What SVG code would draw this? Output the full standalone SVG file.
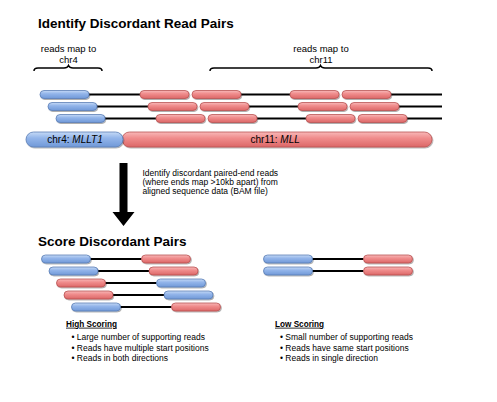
<svg xmlns="http://www.w3.org/2000/svg" width="497" height="402" viewBox="0 0 497 402">
<defs>
<linearGradient id="gb" x1="0" y1="0" x2="0" y2="1">
<stop offset="0" stop-color="#c6daf6"/><stop offset="0.4" stop-color="#93b5ea"/><stop offset="1" stop-color="#7099d8"/>
</linearGradient>
<linearGradient id="gr" x1="0" y1="0" x2="0" y2="1">
<stop offset="0" stop-color="#f8b9b9"/><stop offset="0.4" stop-color="#f08d8d"/><stop offset="1" stop-color="#dc6767"/>
</linearGradient>
<filter id="sh" x="-10%" y="-30%" width="120%" height="170%">
<feDropShadow dx="0.8" dy="1" stdDeviation="0.7" flood-color="#000" flood-opacity="0.35"/>
</filter>
</defs>
<style>
.b{fill:url(#gb);stroke:#5a7db5;stroke-width:0.8;filter:url(#sh)}
.r{fill:url(#gr);stroke:#b95353;stroke-width:0.8;filter:url(#sh)}
.ln{stroke:#000;stroke-width:2;fill:none}
.ln2{stroke:#000;stroke-width:1.8;fill:none}
.br{stroke:#000;stroke-width:1.5;fill:none}
text{font-family:"Liberation Sans",Arial,sans-serif;fill:#000}
.t{font-size:13.5px;font-weight:bold}
.s{font-size:9.5px}
.d{font-size:8.5px}
.h{font-size:8.2px;font-weight:bold;text-decoration:underline}
</style>
<rect width="497" height="402" fill="#fff"/>
<text class="t" x="38" y="28">Identify Discordant Read Pairs</text>
<g id="label-chr4">
<text class="s" x="68.5" y="52.3" text-anchor="middle">reads map to</text>
<text class="s" x="68.5" y="62.7" text-anchor="middle">chr4</text>
<path class="br" d="M34,71 Q34,68 38,68 L64,68 Q67.5,68 68.5,65.5 Q69.5,68 73,68 L98,68 Q102,68 102,71"/>
</g>
<g id="label-chr11">
<text class="s" x="321" y="52.3" text-anchor="middle">reads map to</text>
<text class="s" x="321" y="62.7" text-anchor="middle">chr11</text>
<path class="br" d="M210,71 Q210,68 214,68 L316,68 Q319.5,68 320.5,65.5 Q321.5,68 325,68 L428,68 Q432,68 432,71"/>
</g>
<g id="connectors">
<line class="ln" x1="89" y1="94.5" x2="140" y2="94.5"/>
<line class="ln" x1="241" y1="94.5" x2="290" y2="94.5"/>
<line class="ln" x1="391" y1="94.5" x2="442" y2="94.5"/>
<line class="ln" x1="97" y1="106.5" x2="148" y2="106.5"/>
<line class="ln" x1="249" y1="106.5" x2="298" y2="106.5"/>
<line class="ln" x1="399" y1="106.5" x2="442" y2="106.5"/>
<line class="ln" x1="105" y1="118.5" x2="156" y2="118.5"/>
<line class="ln" x1="257" y1="118.5" x2="306" y2="118.5"/>
<line class="ln" x1="407" y1="118.5" x2="442" y2="118.5"/>
<line class="ln2" x1="90" y1="259" x2="141.5" y2="259"/>
<line class="ln2" x1="98" y1="271" x2="149" y2="271"/>
<line class="ln2" x1="105" y1="283" x2="156.5" y2="283"/>
<line class="ln2" x1="113" y1="295" x2="164" y2="295"/>
<line class="ln2" x1="120" y1="307" x2="171.5" y2="307"/>
<line class="ln2" x1="312" y1="259" x2="363.5" y2="259"/>
<line class="ln2" x1="312" y1="271" x2="363.5" y2="271"/>
<polygon id="arrow" points="119.5,163 127.5,163 127.5,212 134.5,212 123.5,226 112.5,212 119.5,212" fill="#000"/>
</g>
<g id="reads-top">
<rect class="b" x="40" y="90.5" width="49" height="8" rx="4"/>
<rect class="r" x="140" y="90.5" width="49" height="8" rx="4"/>
<rect class="r" x="192" y="90.5" width="49" height="8" rx="4"/>
<rect class="r" x="290" y="90.5" width="49" height="8" rx="4"/>
<rect class="r" x="342" y="90.5" width="49" height="8" rx="4"/>
<rect class="b" x="48" y="102.5" width="49" height="8" rx="4"/>
<rect class="r" x="148" y="102.5" width="49" height="8" rx="4"/>
<rect class="r" x="200" y="102.5" width="49" height="8" rx="4"/>
<rect class="r" x="298" y="102.5" width="49" height="8" rx="4"/>
<rect class="r" x="350" y="102.5" width="49" height="8" rx="4"/>
<rect class="b" x="56" y="114.5" width="49" height="8" rx="4"/>
<rect class="r" x="156" y="114.5" width="49" height="8" rx="4"/>
<rect class="r" x="208" y="114.5" width="49" height="8" rx="4"/>
<rect class="r" x="306" y="114.5" width="49" height="8" rx="4"/>
<rect class="r" x="358" y="114.5" width="49" height="8" rx="4"/>
</g>
<g id="chr11">
<rect class="r" x="122" y="132" width="310" height="15" rx="7.5"/>
<text x="250.5" y="143.3" font-size="10">chr11: <tspan font-style="italic">MLL</tspan></text>
</g>
<g id="chr4">
<rect class="b" x="26" y="132" width="97" height="15" rx="7.5"/>
<text x="75" y="143.3" font-size="10" text-anchor="middle">chr4: <tspan font-style="italic">MLLT1</tspan></text>
</g>
<g id="step-label">
<text class="d" x="142.5" y="176">Identify discordant paired-end reads</text>
<text class="d" x="142.5" y="185">(where ends map &gt;10kb apart) from</text>
<text class="d" x="142.5" y="194">aligned sequence data (BAM file)</text>
</g>
<text class="t" x="38" y="245.5">Score Discordant Pairs</text>
<g id="high-scoring">
<rect class="b" x="41.5" y="255" width="49" height="8" rx="4"/>
<rect class="r" x="141.5" y="255" width="49" height="8" rx="4"/>
<rect class="b" x="49" y="267" width="49" height="8" rx="4"/>
<rect class="r" x="149" y="267" width="49" height="8" rx="4"/>
<rect class="r" x="56.5" y="279" width="49" height="8" rx="4"/>
<rect class="b" x="156.5" y="279" width="49" height="8" rx="4"/>
<rect class="r" x="64" y="291" width="49" height="8" rx="4"/>
<rect class="b" x="164" y="291" width="49" height="8" rx="4"/>
<rect class="b" x="71.5" y="303" width="49" height="8" rx="4"/>
<rect class="r" x="171.5" y="303" width="49" height="8" rx="4"/>
<text class="h" x="66" y="326.7">High Scoring</text>
<text class="d" x="71.5" y="340">• Large number of supporting reads</text>
<text class="d" x="71.5" y="350.7">• Reads have multiple start positions</text>
<text class="d" x="71.5" y="361">• Reads in both directions</text>
</g>
<g id="low-scoring">
<rect class="b" x="263.5" y="255" width="49" height="8" rx="4"/>
<rect class="r" x="363.5" y="255" width="49" height="8" rx="4"/>
<rect class="b" x="263.5" y="267" width="49" height="8" rx="4"/>
<rect class="r" x="363.5" y="267" width="49" height="8" rx="4"/>
<text class="h" x="275" y="326.7">Low Scoring</text>
<text class="d" x="280" y="340">• Small number of supporting reads</text>
<text class="d" x="280" y="350.7">• Reads have same start positions</text>
<text class="d" x="280" y="361">• Reads in single direction</text>
</g>
</svg>
